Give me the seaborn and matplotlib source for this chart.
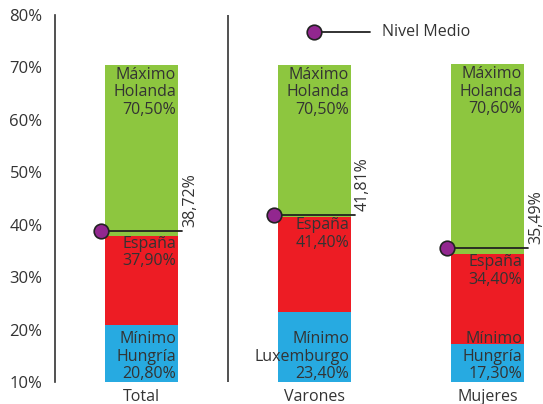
import numpy as np
import pandas as pd
import matplotlib
matplotlib.use("Agg")
import matplotlib.pyplot as plt
import seaborn as sns

# data
grupos = ["Total", "Varones", "Mujeres"]
maximo = [70.5, 70.5, 70.6]
espana = [37.9, 41.4, 34.4]
minimo = [20.8, 23.4, 17.3]
medio = [38.72, 41.81, 35.49]
pais_max = ["Holanda", "Holanda", "Holanda"]
pais_min = ["Hungría", "Luxemburgo", "Hungría"]
yticks = [10, 20, 30, 40, 50, 60, 70, 80]

verde = "#8DC63F"
rojo = "#ED1C24"
azul = "#27AAE1"
morado = "#92278F"
texto = "#333333"


def pct(v):
    return f"{v:.2f}".replace(".", ",") + "%"


df = pd.DataFrame({"grupo": grupos, "maximo": maximo, "espana": espana,
                   "minimo": minimo, "medio": medio})

sns.set_style("white")
plt.rcParams["font.family"] = ["Open Sans", "DejaVu Sans"]

fig = plt.figure(figsize=(5.43, 4.04), dpi=100)
ax = fig.add_axes([55 / 543, 22 / 404, 488 / 543, 367 / 404])

w = 0.422
for col, c in [("maximo", verde), ("espana", rojo), ("minimo", azul)]:
    sns.barplot(data=df, x="grupo", y=col, color=c, width=w,
                saturation=1, linewidth=0, ax=ax)

ax.set_ylim(10, 80)
ax.set_xlim(-0.5, 2.32)
ax.set_yticks(yticks)
ax.set_yticklabels([f"{t}%" for t in yticks], fontsize=12, color=texto)
ax.tick_params(axis="y", length=0, pad=9)
ax.tick_params(axis="x", length=0, pad=5, labelsize=11.5, labelcolor=texto)
ax.set_xlabel("")
ax.set_ylabel("")
for s in ["top", "right", "bottom"]:
    ax.spines[s].set_visible(False)
ax.spines["left"].set_color("#333333")
ax.spines["left"].set_linewidth(1.2)
ax.axvline(0.5, color="#333333", lw=1.2)

fs = 11.5
ls = 1.12
for i in range(len(grupos)):
    xr = i + w / 2 - 0.012
    ax.annotate(f"Máximo\n{pais_max[i]}\n{pct(maximo[i])}", (xr, maximo[i]),
                xytext=(0, -1.5), textcoords="offset points", ha="right",
                va="top", fontsize=fs, color=texto, linespacing=ls)
    ax.annotate(f"España\n{pct(espana[i])}", (xr, espana[i]),
                xytext=(0, 0), textcoords="offset points", ha="right",
                va="top", fontsize=fs, color=texto, linespacing=ls)
    ax.annotate(f"Mínimo\n{pais_min[i]}\n{pct(minimo[i])}", (xr, 10),
                xytext=(0, 0), textcoords="offset points", ha="right",
                va="bottom", fontsize=fs, color=texto, linespacing=ls)
    # nivel medio
    ax.plot([i - 0.234, i + 0.234], [medio[i], medio[i]], color="#222222",
            lw=1.3, zorder=4)
    ax.plot([i - 0.234], [medio[i]], marker="o", ms=10.5, color=morado,
            mec="#222222", mew=1.2, zorder=5)
    ax.annotate(pct(medio[i]), (i + 0.28, medio[i]), xytext=(0, 3),
                textcoords="offset points", rotation=90, ha="center",
                va="bottom", fontsize=fs, color=texto)

# legend
ax.plot([0.53, 0.645], [0.955, 0.955], transform=ax.transAxes,
        color="#222222", lw=1.3, clip_on=False)
ax.plot([0.53], [0.955], transform=ax.transAxes, marker="o", ms=10.5,
        color=morado, mec="#222222", mew=1.2, clip_on=False)
ax.text(0.67, 0.955, "Nivel Medio", transform=ax.transAxes, va="center",
        ha="left", fontsize=fs, color=texto)

fig.savefig("out.png", dpi=100)
